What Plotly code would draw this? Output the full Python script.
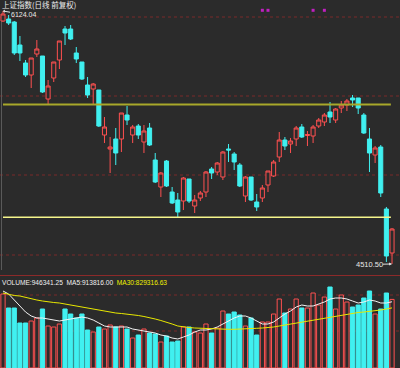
import plotly.graph_objects as go

# ---------------- data ----------------
title_text = "上证指数(日线 前复权)"
idx = list(range(70))

opens = [6060.3, 6073.0, 6053.9, 5907.2, 5792.4, 5715.9, 5849.8, 5837.0, 5562.8, 5696.7,
         5811.5, 6009.2, 6009.2, 5856.2, 5798.8, 5652.1, 5626.6, 5620.2, 5333.2, 5243.9,
         5307.7, 5307.7, 5460.7, 5333.2, 5390.6, 5288.5, 5377.8, 5173.7, 5001.5, 5167.3,
         4969.6, 4918.6, 4912.2, 5052.5, 4880.3, 4931.4, 4969.6, 5116.3, 5097.2, 5065.3,
         5243.9, 5212.0, 5141.8, 4944.1, 5065.3, 4905.8, 4931.4, 5014.3, 5071.7, 5192.9,
         5301.3, 5275.8, 5307.7, 5384.2, 5330.0, 5326.8, 5390.6, 5416.1, 5479.9, 5428.8,
         5505.4, 5524.5, 5569.2, 5569.2, 5460.7, 5307.7, 5205.6, 5256.6, 4861.2, 4580.6]
highs = [6124.04, 6098.5, 6060.3, 5964.6, 5811.5, 5824.3, 5939.1, 5837.0, 5684.0, 5798.8,
         5932.7, 6028.4, 6034.7, 5894.4, 5798.8, 5703.1, 5664.8, 5620.2, 5448.0, 5320.4,
         5377.8, 5473.5, 5518.1, 5397.0, 5403.3, 5397.0, 5409.7, 5218.4, 5097.2, 5173.7,
         5001.5, 4963.2, 5065.3, 5052.5, 4950.5, 4976.0, 5103.6, 5129.1, 5161.0, 5231.1,
         5275.8, 5224.7, 5154.6, 5071.7, 5065.3, 4956.9, 5014.3, 5103.6, 5173.7, 5352.3,
         5320.4, 5314.0, 5390.6, 5403.3, 5358.7, 5397.0, 5441.6, 5473.5, 5543.6, 5505.4,
         5550.0, 5562.8, 5588.3, 5569.2, 5473.5, 5377.8, 5263.0, 5269.4, 4874.0, 4740.0]
lows = [6053.9, 6034.7, 5843.4, 5805.1, 5703.1, 5632.9, 5830.7, 5601.0, 5524.5, 5671.2,
        5754.1, 5907.2, 5939.1, 5792.4, 5684.0, 5569.2, 5524.5, 5384.2, 5282.1, 5090.8,
        5141.8, 5224.7, 5397.0, 5282.1, 5307.7, 5218.4, 5263.0, 5027.0, 4937.7, 5001.5,
        4893.0, 4810.2, 4854.8, 4899.5, 4835.7, 4912.2, 4937.7, 5052.5, 5078.0, 5046.2,
        5161.0, 5109.9, 5001.5, 4905.8, 4912.2, 4848.4, 4905.8, 4969.6, 5065.3, 5161.0,
        5237.5, 5218.4, 5263.0, 5314.0, 5263.0, 5282.1, 5377.8, 5390.6, 5409.7, 5409.7,
        5473.5, 5486.2, 5511.8, 5467.1, 5339.6, 5097.2, 5154.6, 4937.7, 4523.2, 4510.50]
closes = [6104.9, 6047.5, 5856.2, 5856.2, 5715.9, 5824.3, 5881.7, 5607.4, 5645.7, 5798.8,
          5932.7, 5983.7, 5945.5, 5817.9, 5690.3, 5588.3, 5658.4, 5390.6, 5384.2, 5256.6,
          5218.4, 5473.5, 5428.8, 5384.2, 5333.2, 5358.7, 5269.4, 5033.4, 5090.8, 5007.9,
          4899.5, 4842.1, 5058.9, 4912.2, 4918.6, 4963.2, 5097.2, 5090.8, 5154.6, 5224.7,
          5237.5, 5161.0, 5007.9, 5065.3, 4918.6, 4874.0, 4995.1, 5103.6, 5161.0, 5301.3,
          5263.0, 5294.9, 5377.8, 5320.4, 5336.0, 5384.2, 5428.8, 5460.7, 5448.0, 5499.0,
          5524.5, 5550.0, 5556.4, 5505.4, 5345.9, 5218.4, 5250.3, 4963.2, 4561.4, 4733.6]

volumes = [1021200, 828000, 828000, 621000, 621000, 648600, 690000, 814200, 579600, 565800,
           607200, 814200, 745200, 690000, 745200, 524400, 496800, 565800, 538200, 593400,
           565800, 579600, 538200, 414000, 455400, 538200, 483000, 469200, 358800, 441600,
           358800, 372600, 565800, 565800, 496800, 483000, 607200, 483000, 552000, 786600,
           745200, 772800, 731400, 579600, 690000, 455400, 634800, 634800, 745200, 952200,
           759000, 814200, 952200, 828000, 828000, 1035000, 869400, 979800, 1117800, 814200,
           1007400, 910800, 841800, 869400, 966000, 1062600, 745200, 814200, 1035000, 946341.25]
ma5 = [1062600, 1021200, 938400, 855600, 772800, 717600, 690000, 690000, 676200, 662400,
       648600, 662400, 676200, 690000, 703800, 690000, 662400, 621000, 579600, 565800,
       565800, 565800, 565800, 538200, 524400, 510600, 496800, 483000, 455400, 441600,
       414000, 400200, 427800, 455400, 496800, 524400, 524400, 538200, 565800, 607200,
       648600, 690000, 717600, 717600, 690000, 648600, 607200, 607200, 634800, 690000,
       745200, 786600, 841800, 869400, 855600, 855600, 883200, 910800, 952200, 966000,
       966000, 952200, 924600, 897000, 910800, 938400, 924600, 897000, 897000, 913816.00]
ma30 = [1035000, 1014300, 1000500, 993600, 972900, 952200, 938400, 924600, 910800, 903900,
        897000, 883200, 869400, 855600, 841800, 828000, 814200, 800400, 779700, 772800,
        759000, 752100, 745200, 731400, 724500, 710700, 696900, 676200, 655500, 634800,
        607200, 579600, 565800, 558900, 552000, 547860, 545100, 542340, 538200, 535440,
        534060, 534060, 535440, 538200, 542340, 547860, 552000, 556140, 565800, 579600,
        593400, 607200, 621000, 634800, 648600, 662400, 676200, 690000, 703800, 717600,
        731400, 745200, 759000, 765900, 772800, 779700, 786600, 800400, 814200, 829316.63]

info_idx = [46, 47, 55, 57]          # magenta info markers
info_level = 6128.5
resistance = 5527.7                  # olive line
support = 4808.3                     # yellow line
peak_label = "6124.04"
low_label = "4510.50"
vol_label = "VOLUME:946341.25"
ma5_label = "MA5:913816.00"
ma30_label = "MA30:829316.63"

# ---------------- styling ----------------
BG = "#2b2b2b"
RED = "#ff5050"
CYAN = "#40f0f0"
GRID = "#7a2a2a"
H = 368.0
W = 400.0

def py(pix):
    return 1 - pix / H

up = [c >= o for o, c in zip(opens, closes)]

fig = go.Figure()
fig.add_trace(go.Candlestick(
    x=idx, open=opens, high=highs, low=lows, close=closes,
    increasing=dict(line=dict(color=RED, width=1), fillcolor=BG),
    decreasing=dict(line=dict(color=CYAN, width=1), fillcolor=CYAN),
    whiskerwidth=0, showlegend=False, hoverinfo="skip"))

fig.add_trace(go.Bar(
    x=idx, y=volumes, yaxis="y2",
    marker=dict(color=[BG if u else CYAN for u in up],
                line=dict(color=[RED if u else CYAN for u in up], width=1)),
    showlegend=False, hoverinfo="skip"))
fig.add_trace(go.Scatter(x=idx, y=ma5, yaxis="y2", mode="lines",
                         line=dict(color="#f2f2f2", width=1), hoverinfo="skip"))
fig.add_trace(go.Scatter(x=idx, y=ma30, yaxis="y2", mode="lines",
                         line=dict(color="#e8e800", width=1), hoverinfo="skip"))
fig.add_trace(go.Scatter(x=info_idx, y=[info_level] * len(info_idx), mode="markers",
                         marker=dict(symbol="square", size=3, color="#c020c0"),
                         hoverinfo="skip"))

shapes = []
for yp in [17, 96, 175, 255, 295, 331]:
    shapes.append(dict(type="line", xref="paper", yref="paper", x0=0, x1=1,
                       y0=py(yp), y1=py(yp), line=dict(color=GRID, width=1, dash="dot"),
                       layer="below"))
shapes.append(dict(type="line", xref="paper", yref="paper", x0=0, x1=1,
                   y0=py(275.5), y1=py(275.5), line=dict(color="#8c2a2a", width=1),
                   layer="below"))
shapes.append(dict(type="line", xref="paper", yref="paper", x0=1.5 / W, x1=1.5 / W,
                   y0=py(20), y1=py(270), line=dict(color="#5a5a5a", width=1),
                   layer="below"))
shapes.append(dict(type="line", xref="x", yref="y", x0=0, x1=68.8,
                   y0=resistance, y1=resistance, line=dict(color="#a8a82a", width=2)))
shapes.append(dict(type="line", xref="x", yref="y", x0=0, x1=68.8,
                   y0=support, y1=support, line=dict(color="#f6f68c", width=1.5)))

annotations = [
    dict(xref="paper", yref="paper", x=1 / W, y=py(4.5), xanchor="left", yanchor="middle",
         text=title_text, showarrow=False, borderpad=0,
         font=dict(family="Noto Sans CJK SC", size=7.5, color="#ececec")),
    dict(xref="x", yref="y", x=0, y=highs[0], text=peak_label, showarrow=True,
         ax=20, ay=3.5, arrowhead=1, arrowsize=0.6, arrowwidth=1, arrowcolor="#e0e0e0",
         standoff=0, borderpad=0,
         font=dict(family="Liberation Sans", size=7, color="#e8e8e8")),
    dict(xref="x", yref="y", x=69, y=min(lows), text=low_label, showarrow=True,
         ax=-23, ay=0.5, arrowhead=2, arrowsize=0.6, arrowwidth=1, arrowcolor="#e0e0e0",
         standoff=0, borderpad=0,
         font=dict(family="Liberation Sans", size=7.5, color="#e8e8e8")),
    dict(xref="paper", yref="paper", x=1 / W, y=py(282.5), xanchor="left", yanchor="middle",
         text=(vol_label + "  " + ma5_label + "  "
               + "<span style='color:#f0f000'>" + ma30_label + "</span>"),
         showarrow=False, borderpad=0,
         font=dict(family="Liberation Sans", size=6.6, color="#f0f0f0")),
]

x_lo = -3 / 5.638
x_hi = (W - 3) / 5.638
fig.update_layout(
    width=400, height=368, margin=dict(l=0, r=0, t=0, b=0, pad=0),
    paper_bgcolor=BG, plot_bgcolor=BG, showlegend=False,
    bargap=0.25, boxgap=0.28, boxgroupgap=0,
    xaxis=dict(range=[x_lo, x_hi], visible=False, rangeslider=dict(visible=False),
               fixedrange=True),
    yaxis=dict(domain=[py(270), 1], range=[6194.2 - 6.378 * 270, 6194.2], visible=False,
               fixedrange=True),
    yaxis2=dict(domain=[0, py(276)], range=[0, 92 * 13800], visible=False, fixedrange=True),
    shapes=shapes, annotations=annotations,
)

fig.write_html(
    "out.html",
    config={"displayModeBar": False},
    post_script=("document.body.style.margin='0';document.body.style.padding='0';"
                 "document.body.style.overflow='hidden';"
                 "document.body.style.background='" + BG + "';"),
)
